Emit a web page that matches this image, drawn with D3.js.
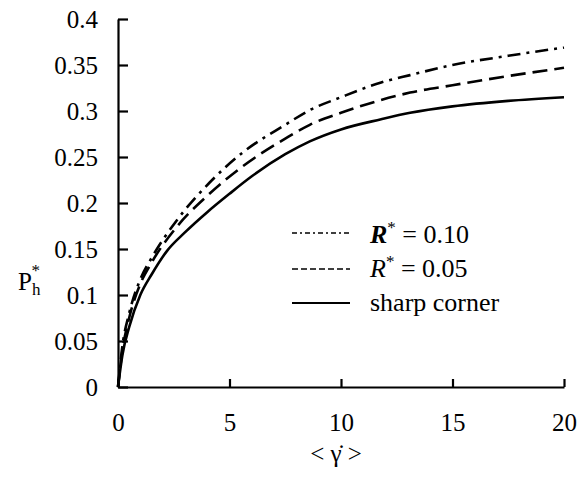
<!DOCTYPE html>
<html>
<head>
<meta charset="utf-8">
<script src="https://cdn.jsdelivr.net/npm/d3@7/dist/d3.min.js"></script>
<style>
	body { margin: 0; background: #fff; }
	svg { display: block; }
</style>
</head>
<body>
<div id="chart"></div>
<script>
// shear rate <gamma dot> vs dimensionless pressure P_h*
const sharpX = [0, 0.2, 0.5, 1, 1.5, 2.2, 3, 4, 5, 6, 7.5, 8.6, 10, 11.8, 13.1, 15, 17.5, 20];
const sharpY = [0, 0.035, 0.065, 0.1, 0.122, 0.148, 0.168, 0.19, 0.21, 0.229, 0.253, 0.267, 0.28, 0.291, 0.298, 0.305, 0.311, 0.315];

const r05X = [0, 0.2, 0.5, 1, 1.5, 2.6, 4.1, 5.6, 7.5, 8.6, 10, 11.8, 13.1, 15, 17.5, 20];
const r05Y = [0, 0.04, 0.075, 0.112, 0.135, 0.173, 0.21, 0.24, 0.27, 0.285, 0.298, 0.312, 0.32, 0.328, 0.338, 0.347];

const r10X = [0, 0.2, 0.5, 1, 1.5, 2.6, 4.1, 5.6, 7.5, 8.6, 10, 11.8, 13.1, 15, 17.5, 20];
const r10Y = [0, 0.045, 0.08, 0.117, 0.14, 0.18, 0.222, 0.255, 0.285, 0.301, 0.315, 0.331, 0.339, 0.35, 0.36, 0.369];

const xTicks = [0, 5, 10, 15, 20];
const yTicks = [0, 0.05, 0.1, 0.15, 0.2, 0.25, 0.3, 0.35, 0.4];

const fontFamily = '"Liberation Serif", Tinos, "Times New Roman", Times, "Nimbus Roman", "DejaVu Serif", serif';

const width = 577, height = 477;
const margin = { left: 118, right: 13, top: 19, bottom: 90 };

const svg = d3.select('#chart').append('svg')
	.attr('width', width)
	.attr('height', height)
	.attr('font-family', fontFamily);

const xScale = d3.scaleLinear().domain([0, 20]).range([margin.left, width - margin.right]);
const yScale = d3.scaleLinear().domain([0, 0.4]).range([height - margin.bottom, margin.top]);

// axes, ticks pointing inward
const yAxis = svg.append('g')
	.attr('transform', `translate(${margin.left},0)`)
	.call(d3.axisLeft(yScale).tickValues(yTicks).tickSizeInner(-10).tickSizeOuter(0)
		.tickPadding(20).tickFormat(d => String(+d.toFixed(2))));

const xAxis = svg.append('g')
	.attr('transform', `translate(0,${height - margin.bottom})`)
	.call(d3.axisBottom(xScale).tickValues(xTicks).tickSizeInner(-8).tickSizeOuter(0)
		.tickPadding(26).tickFormat(d => d));

[xAxis, yAxis].forEach(ax => {
	ax.attr('font-family', fontFamily).attr('font-size', 25);
	ax.select('.domain').attr('stroke', '#000').attr('stroke-width', 2.2);
	ax.selectAll('.tick line').attr('stroke', '#000').attr('stroke-width', 2.2);
	ax.selectAll('.tick text').attr('fill', '#000');
});

// curves
const line = d3.line()
	.x(d => xScale(d[0]))
	.y(d => yScale(d[1]))
	.curve(d3.curveMonotoneX);

const series = [
	{ xs: r10X, ys: r10Y, dash: '13,6,3,6' },
	{ xs: r05X, ys: r05Y, dash: '15,7' },
	{ xs: sharpX, ys: sharpY, dash: null }
];

series.forEach(s => {
	svg.append('path')
		.datum(s.xs.map((x, i) => [x, s.ys[i]]))
		.attr('d', line)
		.attr('fill', 'none')
		.attr('stroke', '#000')
		.attr('stroke-width', 2.6)
		.attr('stroke-dasharray', s.dash);
});

// legend
const legend = svg.append('g');
const legendRows = [
	{ y: 233, dash: '5,3,2,3', width: 1.5 },
	{ y: 269, dash: '6,3', width: 1.5 },
	{ y: 303, dash: null, width: 2 }
];
legendRows.forEach(r => {
	legend.append('line')
		.attr('x1', 292).attr('x2', 350)
		.attr('y1', r.y).attr('y2', r.y)
		.attr('stroke', '#000')
		.attr('stroke-width', r.width)
		.attr('stroke-dasharray', r.dash);
});

const t1 = legend.append('text').attr('x', 370).attr('y', 243).attr('font-size', 26);
t1.append('tspan').text('R').attr('font-weight', 'bold').attr('font-style', 'italic');
t1.append('tspan').text('*').attr('dy', -10).attr('font-size', 17);
t1.append('tspan').text(' = 0.10').attr('dy', 10);

const t2 = legend.append('text').attr('x', 370).attr('y', 277).attr('font-size', 26);
t2.append('tspan').text('R').attr('font-style', 'italic');
t2.append('tspan').text('*').attr('dy', -10).attr('font-size', 17);
t2.append('tspan').text(' = 0.05').attr('dy', 10);

legend.append('text').attr('x', 370).attr('y', 311).attr('font-size', 26).text('sharp corner');

// axis titles
const yl = svg.append('text').attr('x', 18).attr('y', 290).attr('font-size', 25);
yl.append('tspan').text('P');
yl.append('tspan').text('h').attr('dy', 5).attr('font-size', 17);
yl.append('tspan').text('*').attr('dx', -9).attr('dy', -19).attr('font-size', 17);

svg.append('text')
	.attr('x', 336).attr('y', 462)
	.attr('text-anchor', 'middle')
	.attr('font-size', 25)
	.text('< \u03B3\u0307 >');
</script>
</body>
</html>
